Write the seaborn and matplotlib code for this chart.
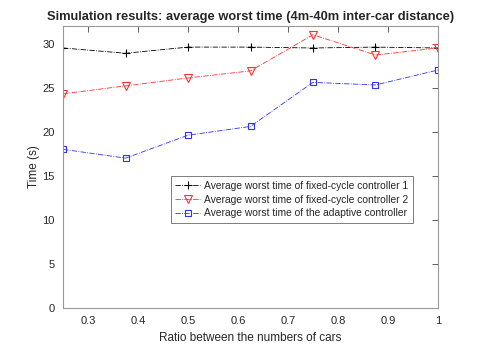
import matplotlib
matplotlib.use("Agg")
import matplotlib.pyplot as plt
import pandas as pd
import seaborn as sns

# values
ratios = [0.25, 0.375, 0.5, 0.625, 0.75, 0.875, 1.0]
fixed_1 = [29.5, 28.9, 29.6, 29.6, 29.5, 29.6, 29.5]
fixed_2 = [24.3, 25.2, 26.1, 26.9, 31.0, 28.7, 29.5]
adaptive = [18.0, 17.0, 19.6, 20.6, 25.6, 25.3, 27.0]

labels = [
    "Average worst time of fixed-cycle controller 1",
    "Average worst time of fixed-cycle controller 2",
    "Average worst time of the adaptive controller",
]

sns.set_style("white")
plt.rcParams["font.family"] = ["Liberation Sans", "DejaVu Sans"]

fig = plt.figure(figsize=(4.85, 3.46), dpi=100)
ax = fig.add_axes([0.13, 0.11, 0.773, 0.815])

series = [
    (fixed_1, "black", "+", 6, "none"),
    (fixed_2, "#ff3030", "v", 6, "none"),
    (adaptive, "#3030ff", "s", 4.5, "none"),
]
for (vals, color, marker, ms, mfc), label in zip(series, labels):
    df = pd.DataFrame({"ratio": ratios, "time": vals})
    sns.lineplot(
        data=df, x="ratio", y="time", ax=ax, color=color, linestyle="-.",
        linewidth=0.6, marker=marker, markersize=ms, markerfacecolor=mfc,
        markeredgecolor=color, markeredgewidth=0.8, label=label,
    )

ax.set_xlim(0.25, 1.0)
ax.set_ylim(0, 32)
ax.set_xticks([0.3, 0.4, 0.5, 0.6, 0.7, 0.8, 0.9, 1.0])
ax.set_xticklabels(["0.3", "0.4", "0.5", "0.6", "0.7", "0.8", "0.9", "1"])
ax.set_yticks([0, 5, 10, 15, 20, 25, 30])

for s in ax.spines.values():
    s.set_color("#999999")
    s.set_linewidth(0.8)
ax.tick_params(direction="in", length=4, width=0.6, color="#444444",
               top=True, right=True, labelsize=8, labelcolor="#262626", pad=6)

ax.set_xlabel("Ratio between the numbers of cars", fontsize=8.5, color="#262626", labelpad=4)
ax.set_ylabel("Time (s)", fontsize=8.5, color="#262626", labelpad=2)
ax.set_title("Simulation results: average worst time (4m-40m inter-car distance)",
             fontsize=9.3, fontweight="bold", pad=4)

leg = ax.legend(loc="upper right", bbox_to_anchor=(0.947, 0.485), fontsize=7.4,
                frameon=True, fancybox=False, edgecolor="#444444",
                handlelength=2.4, borderpad=0.45, labelspacing=0.35,
                handletextpad=0.4)
leg.get_frame().set_linewidth(0.6)

fig.savefig("out.png", dpi=100)
